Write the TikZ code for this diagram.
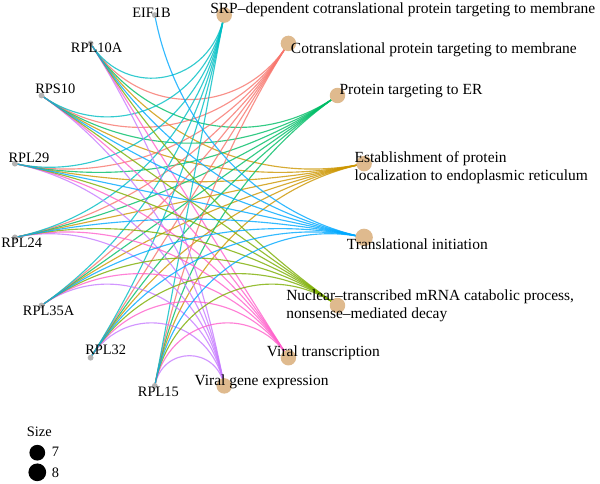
\documentclass[tikz,border=0pt]{standalone}
\usepackage{fontspec}
\setmainfont{Liberation Serif}
\usepackage{xcolor}
\usetikzlibrary{calc}
\usetikzlibrary{backgrounds}
\definecolor{term-tan}{RGB}{223, 186, 142}
\definecolor{gene-grey}{RGB}{179, 179, 179}
\definecolor{go-red}{RGB}{248, 118, 109}
\definecolor{go-gold}{RGB}{205, 150, 0}
\definecolor{go-olive}{RGB}{124, 174, 0}
\definecolor{go-green}{RGB}{0, 190, 103}
\definecolor{go-cyan}{RGB}{0, 191, 196}
\definecolor{go-blue}{RGB}{0, 169, 255}
\definecolor{go-purple}{RGB}{199, 124, 255}
\definecolor{go-pink}{RGB}{255, 97, 204}
\tikzset{
  gene/.style={circle, fill=gene-grey, inner sep=0pt, minimum size=4.4pt},
  term/.style={circle, fill=term-tan, inner sep=0pt, minimum size=11.6pt},
  bigterm/.style={term, minimum size=13.1pt},
  genelabel/.style={anchor=base west, inner sep=0pt, font=\fontsize{10.8}{13}\selectfont},
  termlabel/.style={anchor=base west, inner sep=0pt, align=left, font=\fontsize{11.6}{13.5}\selectfont},
  edge/.style={line width=0.85pt, draw opacity=0.8}
}

\begin{document}
\begin{tikzpicture}[x=0.75pt, y=-0.75pt]
\useasboundingbox (0,0) rectangle (600,483);
\coordinate (hub) at (189.5,200.5);

\node[gene] (eif1b) at (154.8,15.1) {};
\node[gene] (rpl10a) at (90.6,43.4) {};
\node[gene] (rps10) at (41.5,95.5) {};
\node[gene] (rpl29) at (14.9,163.6) {};
\node[gene] (rpl24) at (14.9,237.4) {};
\node[gene] (rpl35a) at (41.5,305.5) {};
\node[gene] (rpl32) at (90.6,357.7) {};
\node[gene] (rpl15) at (154.8,385.9) {};

\node[term] (estab) at (364.1,163.6) {};
\node[term] (ertarget) at (337.5,95.5) {};
\node[term] (cotrans) at (288.4,43.4) {};
\node[term] (srp) at (224.2,15.1) {};
\node[term] (viralexp) at (224.2,385.9) {};
\node[term] (viraltx) at (288.4,357.7) {};
\node[term] (nmd) at (337.5,305.5) {};
\node[bigterm] (transinit) at (364.1,237.4) {};

\begin{pgfonlayer}{background}
\fill[white] (0,0) rectangle (600,483);
\foreach \t/\q/\col in {estab/0/go-gold, ertarget/1/go-green, cotrans/2/go-red, srp/3/go-cyan, viralexp/12/go-purple, viraltx/13/go-pink, nmd/14/go-olive, transinit/15/go-blue} {
  \foreach \g/\p in {rpl10a/5, rps10/6, rpl29/7, rpl24/8, rpl35a/9, rpl32/10, rpl15/11} {
    \pgfmathsetmacro\s{sin(11.25*min(abs(\p-\q),16-abs(\p-\q)))}
    \pgfmathsetmacro\f{4/3*\s/(1+\s)}
    \draw[edge, \col] (\g.center) .. controls ($(\g.center)!\f!(hub)$) and ($(\t.center)!\f!(hub)$) .. (\t.center);
  }
}
\draw[edge, go-blue] (eif1b.center) .. controls ($(eif1b.center)!0.605!(hub)$) and ($(transinit.center)!0.605!(hub)$) .. (transinit.center);
\end{pgfonlayer}

\node[genelabel] (eif1b-text) at (132,17.5) {EIF1B};
\node[genelabel] (rpl10a-text) at (70.7,52.5) {RPL10A};
\node[genelabel] (rps10-text) at (35,93) {RPS10};
\node[genelabel] (rpl29-text) at (8.3,162) {RPL29};
\node[genelabel] (rpl24-text) at (1,247.5) {RPL24};
\node[genelabel] (rpl35a-text) at (22.7,315.5) {RPL35A};
\node[genelabel] (rpl32-text) at (85,354.5) {RPL32};
\node[genelabel] (rpl15-text) at (137.7,396.5) {RPL15};

\node[termlabel] (srp-text) at (210,13.5) {SRP–dependent cotranslational protein targeting to membrane};
\node[termlabel] (cotrans-text) at (290.7,53.5) {Cotranslational protein targeting to membrane};
\node[termlabel] (ertarget-text) at (339.3,94.5) {Protein targeting to ER};
\node[termlabel] (estab-text) at (354.3,180) {Establishment of protein\\localization to endoplasmic reticulum};
\node[termlabel] (transinit-text) at (346.7,249.5) {Translational initiation};
\node[termlabel] (nmd-text) at (286,318.5) {Nuclear–transcribed mRNA catabolic process,\\nonsense–mediated decay};
\node[termlabel] (viraltx-text) at (266.7,356) {Viral transcription};
\node[termlabel] (viralexp-text) at (194.3,385) {Viral gene expression};

\node[genelabel] (size-title) at (26.7,436.7) {Size};
\node[circle, fill=black, inner sep=0pt, minimum size=11.8pt] (size7) at (37.3,452.7) {};
\node[circle, fill=black, inner sep=0pt, minimum size=13.3pt] (size8) at (37.3,472.3) {};
\node[genelabel] (size7-text) at (51.7,456.7) {7};
\node[genelabel] (size8-text) at (51.7,477.3) {8};
\end{tikzpicture}
\end{document}
